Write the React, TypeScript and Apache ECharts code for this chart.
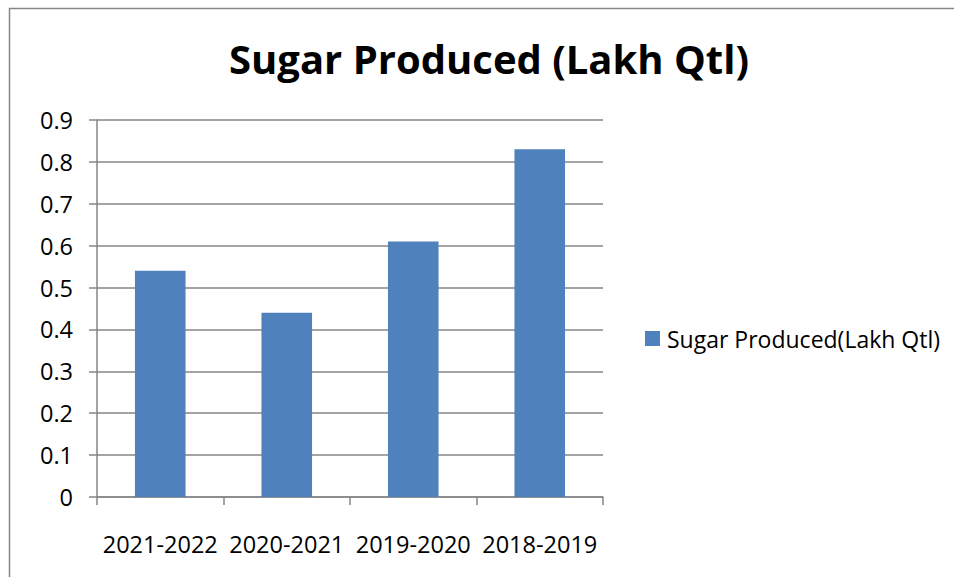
import React, { useEffect, useRef } from "react";
import * as echarts from "echarts";

const categories = ["2021-2022", "2020-2021", "2019-2020", "2018-2019"];
const sugarProduced = [0.54, 0.44, 0.61, 0.83];
const seriesName = "Sugar Produced(Lakh Qtl)";
const titleText = "Sugar Produced (Lakh Qtl)";

export default function App() {
  const ref = useRef<HTMLDivElement>(null);
  useEffect(() => {
    if (!ref.current) return;
    const chart = echarts.init(ref.current, null, { renderer: "svg" });
    const font = "'Open Sans', 'Liberation Sans', sans-serif";
    const grey = "#868686";
    chart.setOption({
      animation: false,
      backgroundColor: "#ffffff",
      title: {
        text: titleText,
        left: 484,
        textAlign: "center",
        top: 33,
        textStyle: { fontFamily: font, fontWeight: "bold", fontSize: 40, color: "#000" },
      },
      graphic: [
        {
          type: "rect",
          shape: { x: 9.5, y: 8.5, width: 2000, height: 2000 },
          style: { fill: "none", stroke: grey, lineWidth: 1.5 },
          silent: true,
        },
      ],
      legend: {
        left: 645,
        top: 327,
        padding: 0,
        itemWidth: 15,
        itemHeight: 15,
        itemGap: 6,
        icon: "rect",
        textStyle: { fontFamily: font, fontSize: 23, color: "#000", padding: [0, 0, 0, 2] },
        data: [seriesName],
      },
      grid: { left: 97, top: 120, right: 351, bottom: 80, containLabel: false },
      xAxis: {
        type: "category",
        data: categories,
        boundaryGap: true,
        axisLine: { show: true, lineStyle: { color: grey, width: 1.5 } },
        axisTick: { show: true, length: 8, alignWithLabel: false, lineStyle: { color: grey, width: 1.5 } },
        axisLabel: { fontFamily: font, fontSize: 23.5, color: "#000", margin: 35, interval: 0 },
      },
      yAxis: {
        type: "value",
        min: 0,
        max: 0.9,
        interval: 0.1,
        axisLine: { show: true, lineStyle: { color: grey, width: 1.5 } },
        axisTick: { show: true, length: 8, lineStyle: { color: grey, width: 1.5 } },
        splitLine: { show: true, lineStyle: { color: grey, width: 1.5 } },
        axisLabel: {
          fontFamily: font,
          fontSize: 23.5,
          color: "#000",
          margin: 24,
          formatter: (v: number) => String(+v.toFixed(1)),
        },
      },
      series: [
        {
          name: seriesName,
          type: "bar",
          data: sugarProduced,
          barWidth: "40%",
          itemStyle: { color: "#4F81BD" },
        },
      ],
    });
    return () => chart.dispose();
  }, []);
  return (
    <div
      ref={ref}
      style={{ position: "fixed", left: 0, top: 0, width: 954, height: 577 }}
    />
  );
}
